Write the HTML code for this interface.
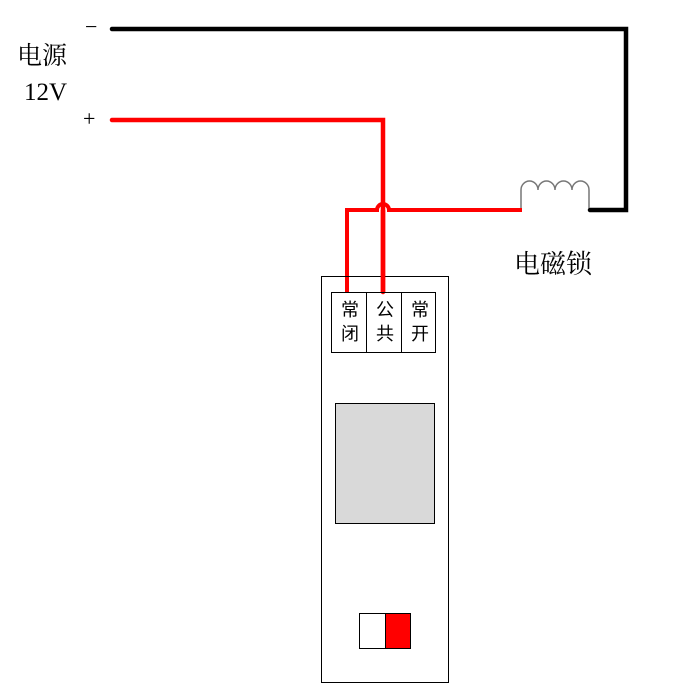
<!DOCTYPE html>
<html><head><meta charset="utf-8"><style>body{margin:0;background:#fff}</style></head><body>
<svg width="699" height="696" xmlns="http://www.w3.org/2000/svg" style="display:block">
<rect width="699" height="696" fill="#fff"/>
<g font-family="Liberation Serif, Noto Serif CJK SC, serif" fill="#000">
<text x="17" y="64" font-size="25">电源</text>
<text x="24" y="100" font-size="25">12V</text>
<text x="85" y="34" font-size="22">−</text>
<text x="83" y="126" font-size="22">+</text>
<text x="514" y="273" font-size="26">电磁锁</text>
</g>
<polyline points="112,29 626,29 626,210 590,210" fill="none" stroke="#000" stroke-width="4.5" stroke-linecap="round"/>
<polyline points="112,120 383,120 383,292" fill="none" stroke="#f00" stroke-width="4.5" stroke-linecap="round"/>
<path d="M347,292 L347,210 L377,210 A6,6 0 0 1 389,210 L522,210" fill="none" stroke="#f00" stroke-width="4"/>
<path d="M521,208 L521,190 A8.5,9 0 0 1 538,190 A8.5,9 0 0 1 555,190 A8.5,9 0 0 1 572,190 A8.5,9 0 0 1 589,190 L589,208" fill="none" stroke="#777" stroke-width="1.5"/>
<rect x="321.5" y="276.5" width="127" height="406" fill="none" stroke="#000"/>
<rect x="331.5" y="292.5" width="104" height="60" fill="none" stroke="#000"/>
<line x1="366.5" y1="292" x2="366.5" y2="353" stroke="#000"/>
<line x1="401.5" y1="292" x2="401.5" y2="353" stroke="#000"/>
<line x1="383" y1="210" x2="383" y2="292" stroke="#f00" stroke-width="4.5"/>
<g font-family="Liberation Sans, Noto Sans CJK SC, sans-serif" font-size="18" fill="#000" text-anchor="middle">
<text x="350" y="316">常</text><text x="350" y="340">闭</text>
<text x="385" y="316">公</text><text x="385" y="340">共</text>
<text x="420" y="316">常</text><text x="420" y="340">开</text>
</g>
<rect x="335.5" y="403.5" width="99" height="120" fill="#d9d9d9" stroke="#000"/>
<rect x="359.5" y="613.5" width="26" height="35" fill="#fff" stroke="#000"/>
<rect x="385.5" y="613.5" width="25" height="35" fill="#f00" stroke="#000"/>
</svg>
</body></html>
